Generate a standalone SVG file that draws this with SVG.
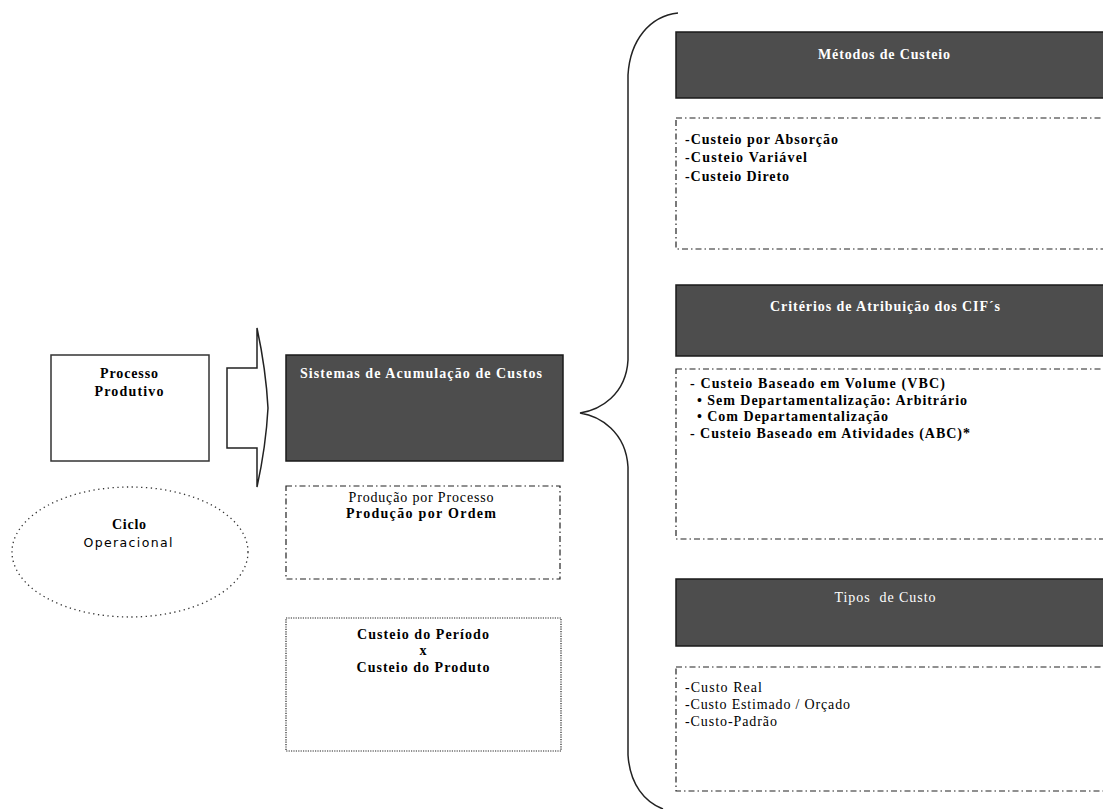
<svg xmlns="http://www.w3.org/2000/svg" width="1103" height="809" viewBox="0 0 1103 809">
<style>
.b{font-family:"Liberation Serif","Times New Roman",serif;font-weight:bold;font-size:14px;fill:#000}
.r{font-family:"Liberation Serif","Times New Roman",serif;font-size:14px;fill:#000}
.s{font-family:"DejaVu Sans","Liberation Sans",sans-serif;font-size:12.5px;fill:#000}
.wb{font-family:"Liberation Serif","Times New Roman",serif;font-weight:bold;font-size:14px;fill:#fff}
.wr{font-family:"Liberation Serif","Times New Roman",serif;font-size:14px;fill:#fff}
.hdr{fill:#4d4d4d;stroke:#1a1a1a;stroke-width:1.5}
.dd{fill:none;stroke:#222;stroke-width:1.2;stroke-dasharray:6 3 1.5 3}
.dot{fill:none;stroke:#222;stroke-width:1.2;stroke-dasharray:1.2 1.2}
.solid{fill:#fff;stroke:#333;stroke-width:1.5}
</style>
<rect width="1103" height="809" fill="#fff"/>

<g id="processo">
<rect class="solid" x="51" y="355" width="158" height="106"/>
<text class="b" x="129" y="378" text-anchor="middle" textLength="58">Processo</text>
<text class="b" x="129" y="396" text-anchor="middle" textLength="69">Produtivo</text>
</g>

<g id="ciclo">
<ellipse cx="130" cy="552" rx="118" ry="65" fill="none" stroke="#333" stroke-width="1.3" stroke-dasharray="1.3 3.5"/>
<text class="b" x="129" y="529" text-anchor="middle" textLength="34">Ciclo</text>
<text class="s" x="128" y="547" text-anchor="middle" textLength="89">Operacional</text>
</g>

<g id="connectors">
<path d="M227,368 L257,368 L257,328 Q266,370 268,408 Q266,446 257,487 L257,448 L227,448 Z" fill="#fff" stroke="#222" stroke-width="1.5"/>
<path d="M678,13 C650,16 630,40 628,75 L628,360 C626,395 600,410 580,413 C600,416 626,432 628,467 L628,755 C630,785 645,802 663,809" fill="none" stroke="#222" stroke-width="1.5"/>
</g>

<g id="sistemas">
<rect class="hdr" x="286" y="355" width="277" height="106"/>
<text class="wb" x="300" y="378" textLength="242">Sistemas de Acumulação de Custos</text>
</g>

<g id="producao">
<rect class="dd" x="286" y="486" width="274" height="93"/>
<text class="r" x="421" y="502" text-anchor="middle" textLength="145">Produção por Processo</text>
<text class="b" x="421" y="518" text-anchor="middle" textLength="150">Produção por Ordem</text>
</g>

<g id="periodo">
<rect class="dot" x="286" y="618" width="275" height="133"/>
<text class="b" x="423" y="639" text-anchor="middle" textLength="132">Custeio do Período</text>
<text class="b" x="423" y="655" text-anchor="middle">x</text>
<text class="b" x="423" y="672" text-anchor="middle" textLength="133">Custeio do Produto</text>
</g>

<g id="metodos">
<rect class="hdr" x="676" y="32" width="440" height="66"/>
<text class="wb" x="884" y="59" text-anchor="middle" textLength="132">Métodos de Custeio</text>
<rect class="dd" x="676" y="118" width="440" height="131"/>
<text class="b" x="685" y="144" textLength="153">-Custeio por Absorção</text>
<text class="b" x="685" y="162" textLength="122">-Custeio Variável</text>
<text class="b" x="685" y="181" textLength="104">-Custeio Direto</text>
</g>

<g id="criterios">
<rect class="hdr" x="676" y="285" width="440" height="71"/>
<text class="wb" x="885" y="311" text-anchor="middle" textLength="230">Critérios de Atribuição dos CIF´s</text>
<rect class="dd" x="676" y="369" width="440" height="170"/>
<text class="b" x="690" y="388" textLength="255">- Custeio Baseado em Volume (VBC)</text>
<text class="b" x="697" y="405" textLength="270">• Sem Departamentalização: Arbitrário</text>
<text class="b" x="697" y="421" textLength="191">• Com Departamentalização</text>
<text class="b" x="690" y="438" textLength="280">- Custeio Baseado em Atividades (ABC)*</text>
</g>

<g id="tipos">
<rect class="hdr" x="676" y="579" width="440" height="67"/>
<text class="wr" x="885" y="602" text-anchor="middle" textLength="101" xml:space="preserve">Tipos  de Custo</text>
<rect class="dd" x="676" y="667" width="440" height="124"/>
<text class="r" x="685" y="692" textLength="77">-Custo Real</text>
<text class="r" x="685" y="709" textLength="165">-Custo Estimado / Orçado</text>
<text class="r" x="685" y="726" textLength="92">-Custo-Padrão</text>
</g>
</svg>
